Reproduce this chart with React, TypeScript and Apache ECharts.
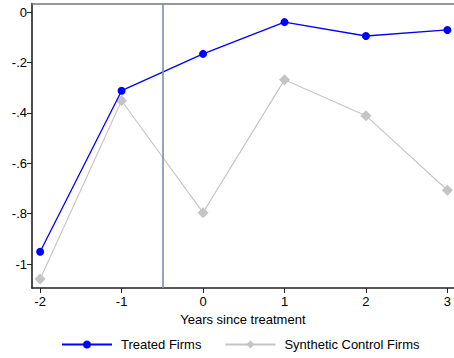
import React, { useEffect, useRef } from "react";
import * as echarts from "echarts";

const years = [-2, -1, 0, 1, 2, 3];
const treated = [-0.951, -0.312, -0.166, -0.04, -0.095, -0.071];
const synthetic = [-1.059, -0.352, -0.796, -0.269, -0.411, -0.707];
const yTicks = [0, -0.2, -0.4, -0.6, -0.8, -1];
const xTicks = [-2, -1, 0, 1, 2, 3];
const treatmentLine = -0.5;

export default function App() {
  const ref = useRef<HTMLDivElement>(null);
  useEffect(() => {
    if (!ref.current) return;
    const chart = echarts.init(ref.current, null, { renderer: "svg" });
    const font = "Liberation Sans, Arial, sans-serif";
    chart.setOption({
      animation: false,
      textStyle: { fontFamily: font },
      grid: { left: 32, right: 0, top: 3.5, bottom: 70, containLabel: false },
      legend: {
        left: 61,
        bottom: 7,
        padding: 0,
        itemWidth: 50,
        itemHeight: 10,
        itemGap: 23,
        textStyle: { fontSize: 13, color: "#000", fontFamily: font, padding: [0, 0, 0, 4] },
        data: ["Treated Firms", "Synthetic Control Firms"],
      },
      xAxis: [
        {
          type: "value",
          min: -2.1,
          max: 3.078,
          name: "Years since treatment",
          nameLocation: "middle",
          nameGap: 21,
          nameTextStyle: { fontSize: 13, color: "#000", fontFamily: font },
          axisLine: { onZero: false, lineStyle: { color: "#222", width: 1.6 } },
          axisTick: { show: true, length: 5, lineStyle: { color: "#222" }, customValues: xTicks },
          axisLabel: { fontSize: 13, color: "#000", margin: 7, customValues: xTicks, fontFamily: font },
          splitLine: { show: false },
        },
        {
          type: "value",
          position: "top",
          min: -2.1,
          max: 3.078,
          axisLine: { show: true, onZero: false, lineStyle: { color: "#777", width: 1.5 } },
          axisTick: { show: false },
          axisLabel: { show: false },
          splitLine: { show: false },
        },
      ],
      yAxis: {
        type: "value",
        min: -1.095,
        max: 0.034,
        axisLine: { show: true, onZero: false, lineStyle: { color: "#222", width: 1.6 } },
        axisTick: { show: true, length: 5, lineStyle: { color: "#222" }, customValues: yTicks },
        axisLabel: {
          fontSize: 13,
          color: "#000",
          margin: 5,
          fontFamily: font,
          customValues: yTicks,
          formatter: (v: number) => (v === 0 ? "0" : String(v).replace("0.", ".")),
        },
        splitLine: { show: false },
      },
      series: [
        {
          name: "Treated Firms",
          type: "line",
          data: years.map((x, i) => [x, treated[i]]),
          symbol: "circle",
          symbolSize: 8,
          lineStyle: { color: "#0000ff", width: 1.3 },
          itemStyle: { color: "#0000ff" },
          z: 3,
          markLine: {
            silent: true,
            symbol: "none",
            label: { show: false },
            lineStyle: { color: "#7a92ab", width: 1.6, type: "solid" },
            data: [{ xAxis: treatmentLine }],
          },
        },
        {
          name: "Synthetic Control Firms",
          type: "line",
          data: years.map((x, i) => [x, synthetic[i]]),
          symbol: "diamond",
          symbolSize: 11,
          lineStyle: { color: "#c4c4c4", width: 1.1 },
          itemStyle: { color: "#c4c4c4" },
          z: 2,
        },
      ],
    });
    return () => chart.dispose();
  }, []);
  return <div ref={ref} style={{ width: 454, height: 358, position: "absolute", left: 0, top: 0 }} />;
}
